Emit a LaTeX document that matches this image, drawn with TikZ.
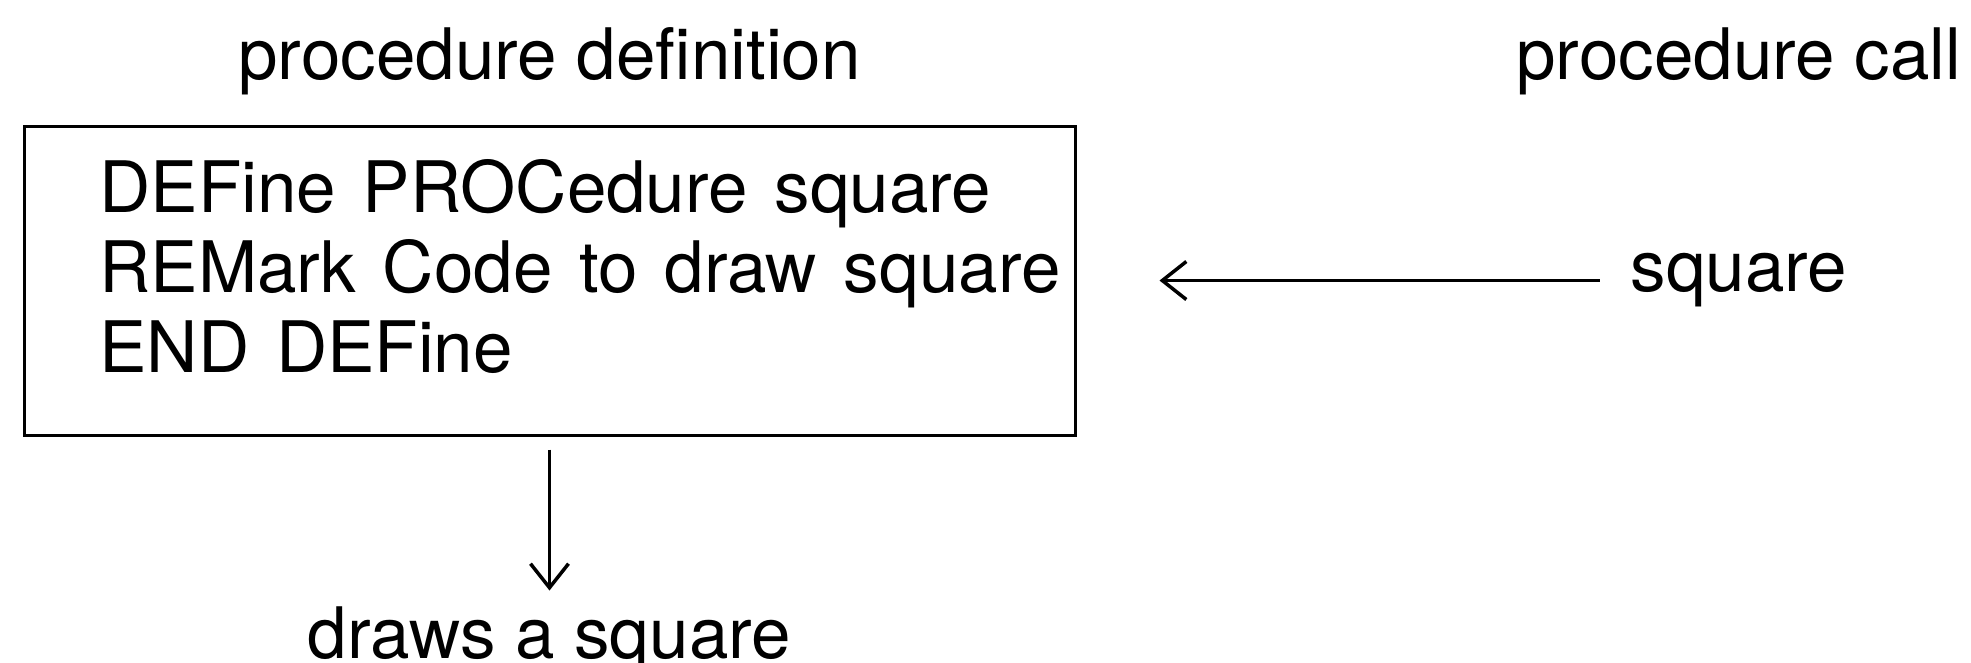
\documentclass[tikz,border=0pt]{standalone}
\usepackage{fontspec}
\setmainfont{TeX Gyre Heros}
\usepackage{tikz}
\usetikzlibrary{arrows.meta,positioning}
\newcommand{\widespaces}{\spaceskip 5.35pt\relax}

\begin{document}
\begin{tikzpicture}[
  font=\fontsize{14.2pt}{16pt}\selectfont,
  codebox/.style={draw, line width=0.6pt, minimum width=210.2pt, minimum height=61.8pt},
  txt/.style={inner sep=0pt},
  codetext/.style={txt, align=left, font=\fontsize{14.2pt}{16pt}\selectfont\widespaces},
  arrow/.style={-{Straight Barb[length=4.8pt, width=7.6pt, line width=0.7pt]}, line width=0.5pt}
]
\useasboundingbox (0,0) rectangle (394.2pt,-132.4pt);
\node[codebox] (defbox) at (109.9pt,-56.1pt) {};
\node[codetext, below right=6.8pt and 15.2pt of defbox.north west] (code)
  {DEFine PROCedure square\\REMark Code to draw square\\END DEFine};
\node[txt, above=5.8pt of defbox] (deftitle) {procedure definition};
\node[txt, right=110.6pt of defbox] (callsq) {square};
\node[txt, anchor=base] (calltitle) at (deftitle.base -| callsq) {procedure call};
\node[txt, below=33.8pt of defbox] (result) {draws a square};

\draw[arrow, shorten <=6pt, shorten >=16.6pt] (callsq) -- (defbox);
\draw[arrow, shorten <=2.6pt, shorten >=3pt] (defbox) -- (result);
\end{tikzpicture}
\end{document}
